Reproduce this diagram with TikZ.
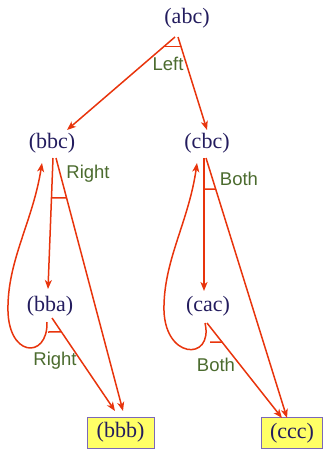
\documentclass[tikz,border=0pt]{standalone}
\usepackage{fontspec}
\setmainfont{Liberation Serif}
\newfontfamily\labfont{Liberation Sans}
\usetikzlibrary{arrows.meta,calc}
\definecolor{edgered}{HTML}{E8340C}
\definecolor{txtnavy}{HTML}{231C5E}
\definecolor{labgreen}{HTML}{4B6B2E}
\definecolor{boxfill}{HTML}{FFFF66}
\definecolor{boxline}{HTML}{7B68B8}
\tikzset{
  state/.style={text=txtnavy,font=\fontsize{22}{22}\selectfont,inner sep=0pt},
  final/.style={state,fill=boxfill,draw=boxline,line width=1pt,minimum height=31pt},
  edge/.style={draw=edgered,line width=1.5pt,-{Stealth[length=9pt,width=7pt,inset=2.5pt]}},
  arcmark/.style={draw=edgered,line width=1.5pt},
  lab/.style={text=labgreen,font=\labfont\fontsize{18.5}{18.5}\selectfont,inner sep=0pt}
}
\begin{document}
\begin{tikzpicture}[x=1pt,y=1pt]
\useasboundingbox (0,0) rectangle (323,-452);
\node[state] (abc) at (187,-18) {(abc)};
\node[state] (bbc) at (52,-143) {(bbc)};
\node[state] (cbc) at (207,-143) {(cbc)};
\node[state] (bba) at (50,-306) {(bba)};
\node[state] (cac) at (208,-306) {(cac)};
\node[final,minimum width=67pt] (bbb) at (120.5,-432.5) {(bbb)};
\node[final,minimum width=61pt] (ccc) at (292,-433) {(ccc)};
% abc
\draw[edge] ($(abc)+(-12,-19)$) -- coordinate[pos=0.1] (m1a) ($(bbc)+(15,13)$);
\draw[edge] ($(abc)+(-9,-19)$) -- coordinate[pos=0.1] (m1b) ($(cbc)+(0,13)$);
\draw[arcmark] (m1a) -- (m1b);
\node[lab] (l1) at (168,-64) {Left};
% bbc
\draw[edge] ($(bbc)+(1,-15)$) -- coordinate[pos=0.305] (m2a) ($(bba)+(-2,17)$);
\draw[edge] ($(bbc)+(4,-15)$) -- coordinate[pos=0.158] (m2b) ($(bbb)+(2.5,21.5)$);
\draw[arcmark] (m2a) -- (m2b);
\node[lab] (l2) at (88,-174) {Right};
% bba
\draw[edge] ($(bba)+(-3,-16)$) .. controls (48,-360) and (6,-358) .. (8,-305)
  .. controls (9,-258) and (33,-220) .. ($(bbc)+(-10,-20)$);
\draw[edge] ($(bba)+(2,-12)$) -- coordinate[pos=0.15] (m3b) ($(bbb)+(-5.5,21.5)$);
\coordinate (m3a) at ($(bba)+(-2,-26)$);
\draw[arcmark] (m3a) -- (m3b);
\node[lab] (l3) at (55,-361) {Right};
% cbc
\draw[edge] ($(cbc)+(-3,-15)$) -- coordinate[pos=0.233] (m4a) ($(cac)+(-4,15)$);
\draw[edge] ($(cbc)+(-1,-15)$) -- coordinate[pos=0.12] (m4b) ($(ccc)+(-5,15)$);
\draw[arcmark] (m4a) -- (m4b);
\node[lab] (l4) at (239,-179) {Both};
% cac
\draw[edge] ($(cac)+(-3,-17)$) .. controls (214,-362) and (162,-360) .. (164,-305)
  .. controls (165,-258) and (189,-220) .. ($(cbc)+(-10,-20)$);
\draw[edge] ($(cac)+(-1,-17)$) -- coordinate[pos=0.2] (m5b) ($(ccc)+(-10,15)$);
\coordinate (m5a) at ($(cac)+(2,-36)$);
\draw[arcmark] (m5a) -- (m5b);
\node[lab] (l5) at (216,-365) {Both};
\end{tikzpicture}
\end{document}
